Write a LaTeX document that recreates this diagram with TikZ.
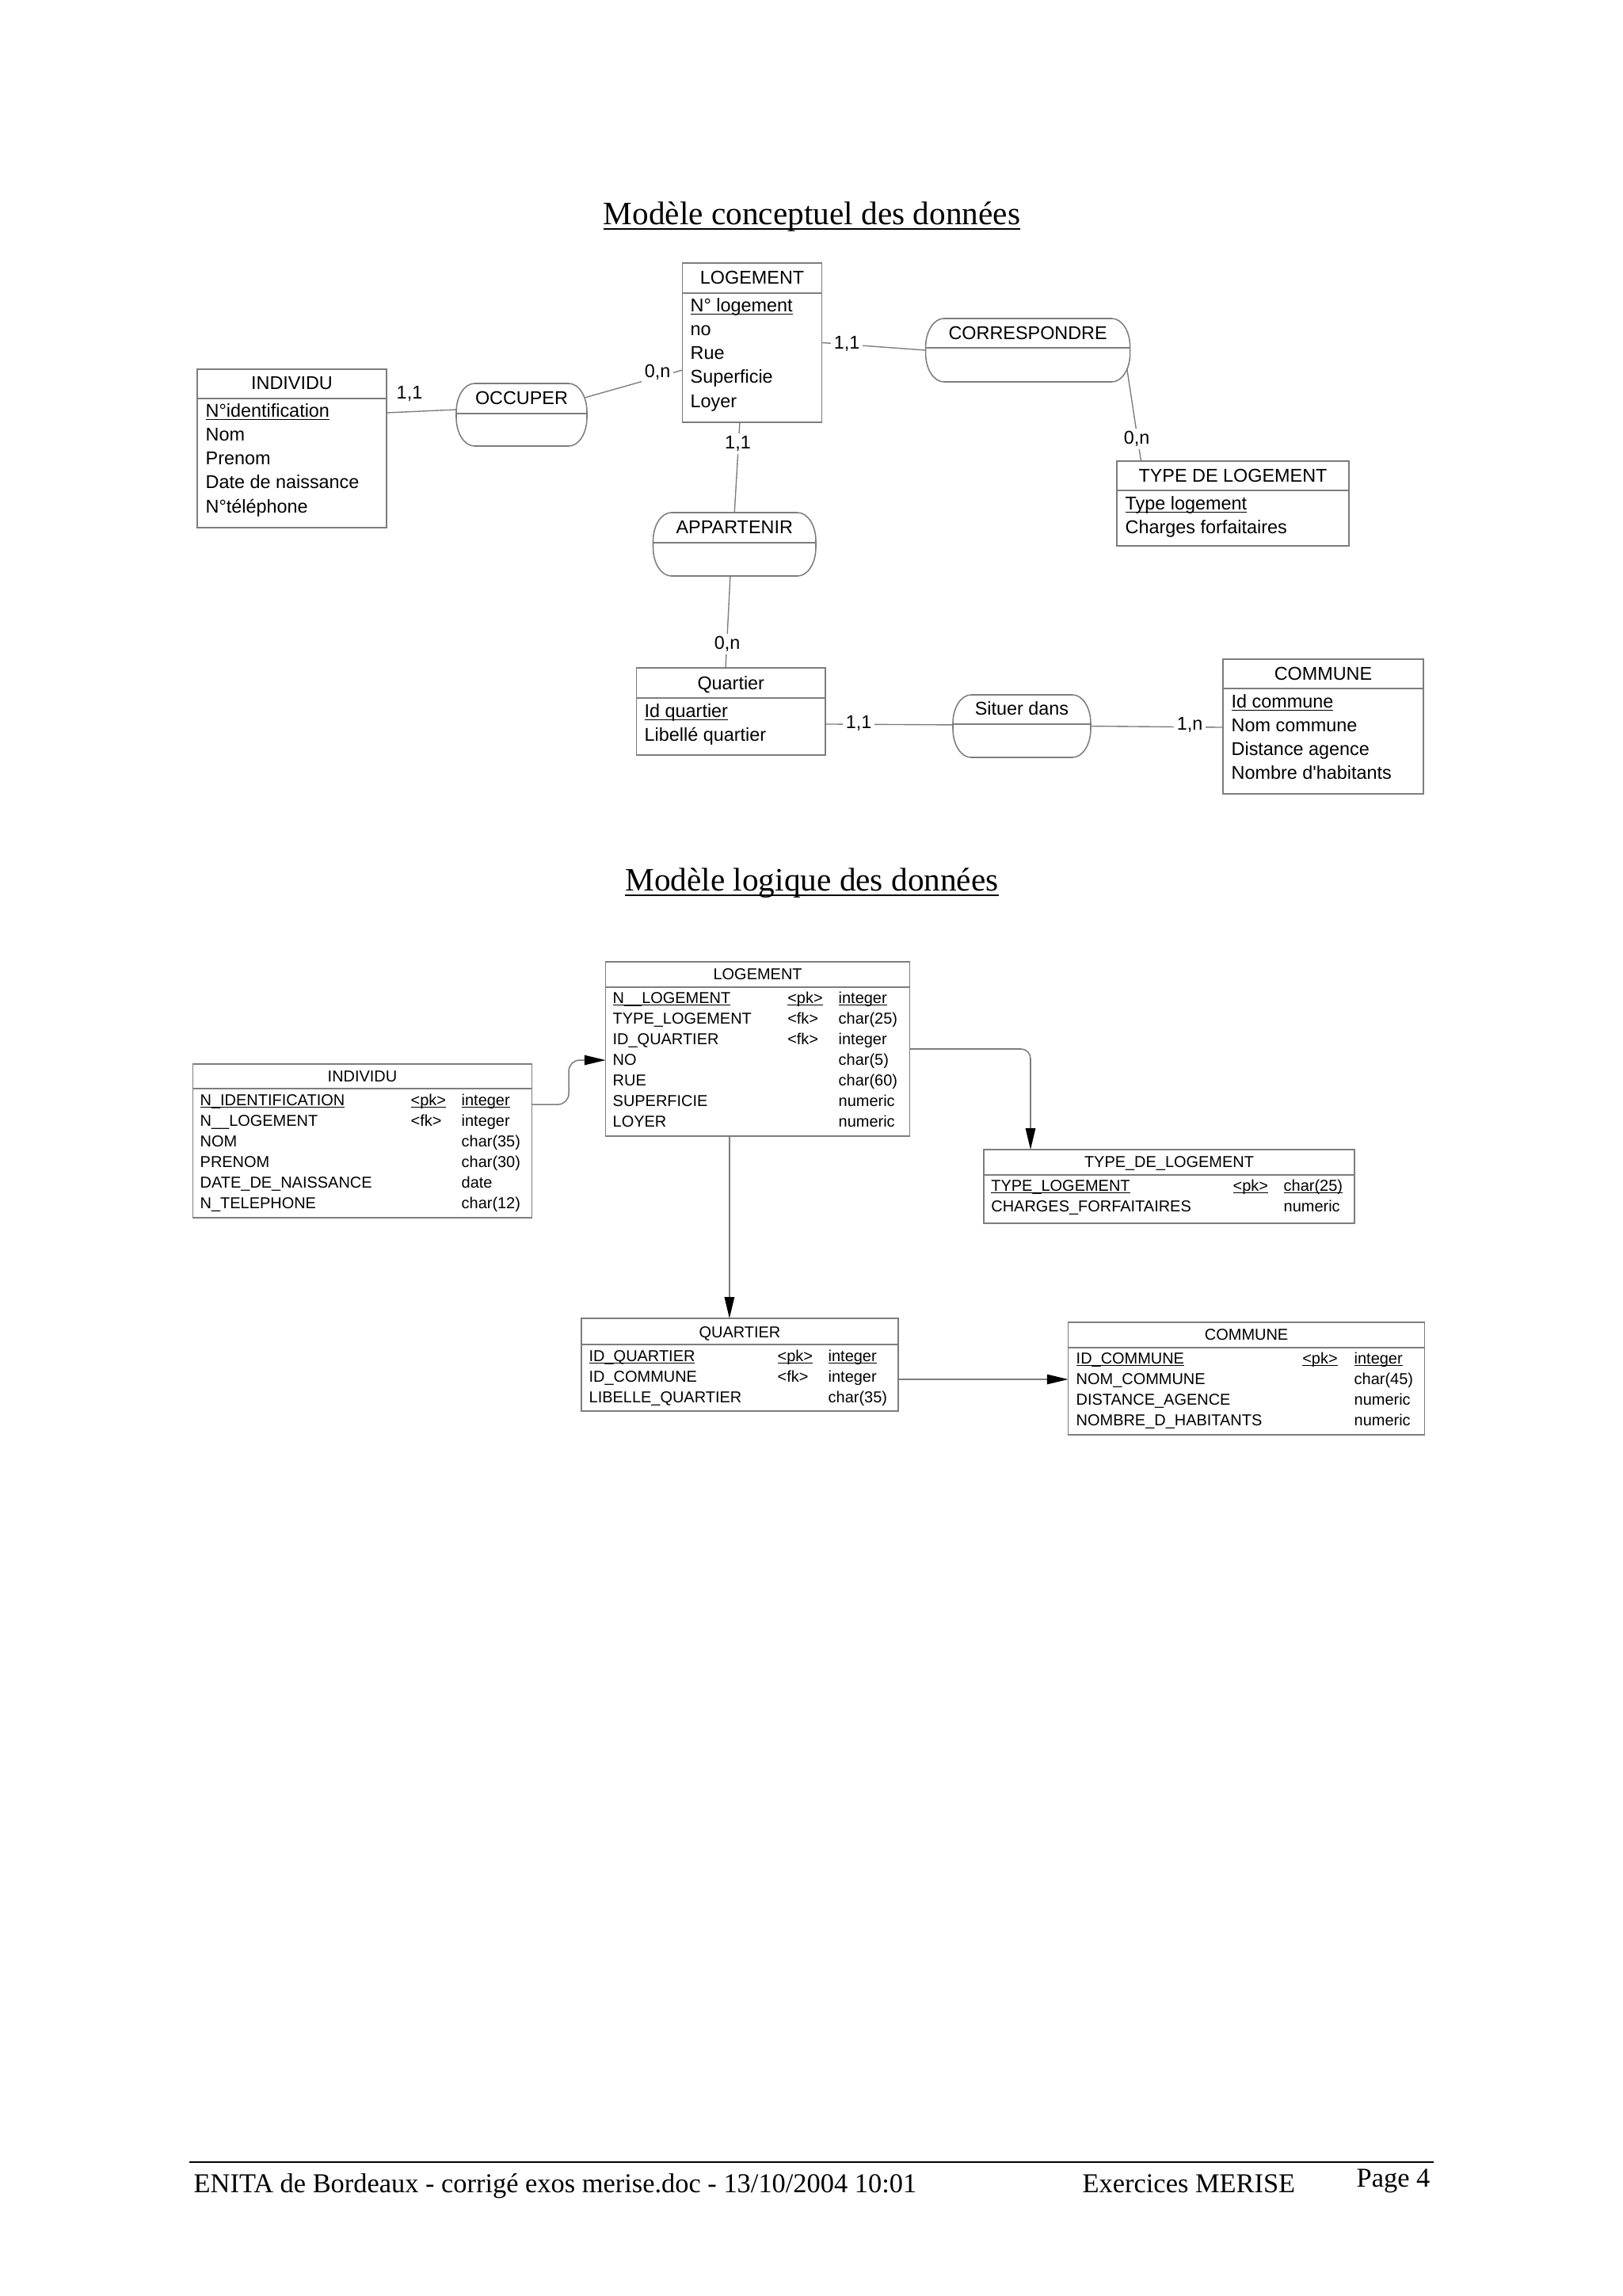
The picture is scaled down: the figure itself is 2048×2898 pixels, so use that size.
\documentclass[tikz,border=0pt]{standalone}
\usepackage{fontspec}
\setmainfont{Liberation Serif}
\newfontfamily\arialf{Liberation Sans}
\usetikzlibrary{calc,fit,arrows.meta}
\definecolor{bgray}{RGB}{125,125,125}
\newcommand\ulx[1]{\setbox0=\hbox{#1}\rlap{\rule[-0.16em]{\wd0}{0.05em}}\box0}
\tikzset{
 boxline/.style={draw=bgray, line width=0.45pt},
 entb/.style={draw=bgray, line width=0.45pt, inner sep=0pt, outer sep=0pt},
 assocb/.style={inner sep=0pt, outer sep=0pt},
 conn/.style={draw=bgray, line width=0.4pt},
 fk/.style={draw=bgray, line width=0.45pt, -{Triangle[length=7.8pt,width=3.6pt,color=black]}},
 ctxt/.style={font=\arialf\fontsize{6.8}{8}\selectfont, inner sep=0pt},
 mtxt/.style={font=\arialf\fontsize{5.8}{7}\selectfont, inner sep=0pt},
 card/.style={ctxt, fill=white, inner sep=1pt},
 ttl/.style={font=\fontsize{12}{14}\selectfont, inner sep=0pt, anchor=base},
 foot/.style={font=\fontsize{10}{12}\selectfont, inner sep=0pt, anchor=base west},
}
% CDM rows: prefix, x, y0, pitch, list
\newcommand\crows[5]{\foreach \t [count=\i from 0] in {#5} {\node[ctxt, anchor=base west] (#1r\i) at (#2,{#3+\i*#4}) {\t};}}
% MLD rows: prefix, x1, x2, x3, y0, list
\newcommand\mrows[6]{\foreach \a/\b/\c [count=\i from 0] in {#6} {
  \node[mtxt, anchor=base west] (#1a\i) at (#2,{#5+\i*26}) {\a};
  \node[mtxt, anchor=base west] (#1b\i) at (#3,{#5+\i*26}) {\b};
  \node[mtxt, anchor=base west] (#1c\i) at (#4,{#5+\i*26}) {\c};}}
% association shape: name, rx, ry, divider y
\newcommand\assoc[4]{%
 \draw[boxline] ($(#1.north west)+(#2,0)$) -- ($(#1.north east)+(-#2,0)$)
  .. controls ($(#1.north east)+(-0.448*#2,0)$) and ($(#1.north east)+(0,0.448*#3)$) .. ($(#1.north east)+(0,#3)$)
  -- ($(#1.south east)+(0,-#3)$)
  .. controls ($(#1.south east)+(0,-0.448*#3)$) and ($(#1.south east)+(-0.448*#2,0)$) .. ($(#1.south east)+(-#2,0)$)
  -- ($(#1.south west)+(#2,0)$)
  .. controls ($(#1.south west)+(0.448*#2,0)$) and ($(#1.south west)+(0,-0.448*#3)$) .. ($(#1.south west)+(0,-#3)$)
  -- ($(#1.north west)+(0,#3)$)
  .. controls ($(#1.north west)+(0,0.448*#3)$) and ($(#1.north west)+(0.448*#2,0)$) .. ($(#1.north west)+(#2,0)$) -- cycle;
 \draw[boxline] (#1.west |- 0,#4) -- (#1.east |- 0,#4);}
\begin{document}
\begin{tikzpicture}[x=0.29067pt,y=-0.29067pt]
\useasboundingbox[fill=white] (0,0) rectangle (2048,2898);

% ===== Titles =====
\node[ttl] (t1) at (1025,283) {\ulx{Modèle conceptuel des données}};
\node[ttl] (t2) at (1025,1124) {\ulx{Modèle logique des données}};

% ===== MCD entities =====
\node[entb, fit={(861.5,332)(1037.7,533)}] (lg) {};
\draw[boxline] (lg.west |- 0,370) -- (lg.east |- 0,370);
\node[ctxt, anchor=base] (lgt) at (lg.center |- 0,358) {LOGEMENT};
\crows{lg}{871}{393}{30.3}{\ulx{N° logement},no,Rue,Superficie,Loyer}

\node[entb, fit={(249,466)(488,666)}] (ind) {};
\draw[boxline] (ind.west |- 0,503) -- (ind.east |- 0,503);
\node[ctxt, anchor=base] (indt) at (ind.center |- 0,491) {INDIVIDU};
\crows{ind}{259}{526}{30.3}{\ulx{N°identification},Nom,Prenom,Date de naissance,N°téléphone}

\node[entb, fit={(1410,582)(1703,689)}] (tl) {};
\draw[boxline] (tl.west |- 0,619) -- (tl.east |- 0,619);
\node[ctxt, anchor=base] (tlt) at (tl.center |- 0,608) {TYPE DE LOGEMENT};
\crows{tl}{1420}{643}{30}{\ulx{Type logement},Charges forfaitaires}

\node[entb, fit={(803.5,843)(1042,953)}] (qt) {};
\draw[boxline] (qt.west |- 0,881) -- (qt.east |- 0,881);
\node[ctxt, anchor=base] (qtt) at (qt.center |- 0,870) {Quartier};
\crows{qt}{813}{905}{30}{\ulx{Id quartier},Libellé quartier}

\node[entb, fit={(1544,832)(1797,1002)}] (com) {};
\draw[boxline] (com.west |- 0,869) -- (com.east |- 0,869);
\node[ctxt, anchor=base] (comt) at (com.center |- 0,858) {COMMUNE};
\crows{com}{1554}{893}{30.3}{\ulx{Id commune},Nom commune,Distance agence,Nombre d\textquotesingle habitants}

% ===== MCD associations =====
\node[assocb, fit={(576,484)(741,563)}] (occ) {};
\assoc{occ}{23}{36}{522}
\node[ctxt, anchor=base] (occt) at (occ.center |- 0,510) {OCCUPER};

\node[assocb, fit={(1168.6,402)(1426.7,482)}] (cor) {};
\assoc{cor}{23}{36}{439}
\node[ctxt, anchor=base] (cort) at (cor.center |- 0,428) {CORRESPONDRE};

\node[assocb, fit={(824.5,647)(1030,727)}] (app) {};
\assoc{app}{23}{36}{685}
\node[ctxt, anchor=base] (appt) at (app.center |- 0,673) {APPARTENIR};

\node[assocb, fit={(1203,877)(1377,956)}] (sit) {};
\assoc{sit}{23}{36}{914}
\node[ctxt, anchor=base] (sitt) at (sit.center |- 0,902) {Situer dans};

% ===== MCD links =====
\draw[conn] ($(ind.north east)!0.275!(ind.south east)$) -- ($(occ.north west)!0.418!(occ.south west)$);
\draw[conn] ($(occ.north east)+(-3,18)$) -- ($(lg.north west)!0.672!(lg.south west)$);
\draw[conn] (lg.east) -- (cor.west);
\draw[conn] ($(cor.south east)+(-4,-17)$) -- ($(tl.north west)!0.104!(tl.north east)$);
\draw[conn] ($(lg.south west)!0.411!(lg.south east)$) -- (app.north);
\draw[conn] ($(app.south west)!0.474!(app.south east)$) -- ($(qt.north west)!0.472!(qt.north east)$);
\draw[conn] ($(qt.north east)!0.645!(qt.south east)$) -- ($(sit.north west)!0.48!(sit.south west)$);
\draw[conn] (sit.east) -- ($(com.north west)!0.506!(com.south west)$);

\node[card] (c1) at (517,497) {1,1};
\node[card] (c2) at (830,470) {0,n};
\node[card] (c3) at (1069,434) {1,1};
\node[card] (c4) at (1435,554) {0,n};
\node[card] (c5) at (931.5,560) {1,1};
\node[card] (c6) at (918,813) {0,n};
\node[card] (c7) at (1084,913) {1,1};
\node[card] (c8) at (1502,915) {1,n};

% ===== MLD tables =====
\node[entb, fit={(243.5,1343)(671.5,1537)}] (ind2) {};
\draw[boxline] (ind2.west |- 0,1374) -- (ind2.east |- 0,1374);
\node[mtxt, anchor=base] (ind2t) at (ind2.center |- 0,1365) {INDIVIDU};
\mrows{ind2}{252}{518}{582}{1395}{\ulx{N\_IDENTIFICATION}/\ulx{<pk>}/\ulx{integer},N\_\_LOGEMENT/<fk>/integer,NOM/{}/char(35),PRENOM/{}/char(30),DATE\_DE\_NAISSANCE/{}/date,N\_TELEPHONE/{}/char(12)}

\node[entb, fit={(764.6,1214)(1148.6,1434)}] (lg2) {};
\draw[boxline] (lg2.west |- 0,1246) -- (lg2.east |- 0,1246);
\node[mtxt, anchor=base] (lg2t) at (lg2.center |- 0,1236) {LOGEMENT};
\mrows{lg2}{773}{993.6}{1058}{1266}{\ulx{N\_\_LOGEMENT}/\ulx{<pk>}/\ulx{integer},TYPE\_LOGEMENT/<fk>/char(25),ID\_QUARTIER/<fk>/integer,NO/{}/char(5),RUE/{}/char(60),SUPERFICIE/{}/numeric,LOYER/{}/numeric}

\node[entb, fit={(1242,1451)(1710,1544)}] (ty2) {};
\draw[boxline] (ty2.west |- 0,1483) -- (ty2.east |- 0,1483);
\node[mtxt, anchor=base] (ty2t) at (ty2.center |- 0,1473) {TYPE\_DE\_LOGEMENT};
\mrows{ty2}{1250.7}{1556}{1620}{1503}{\ulx{TYPE\_LOGEMENT}/\ulx{<pk>}/\ulx{char(25)},CHARGES\_FORFAITAIRES/{}/numeric}

\node[entb, fit={(734,1664)(1134,1781)}] (qu2) {};
\draw[boxline] (qu2.west |- 0,1697) -- (qu2.east |- 0,1697);
\node[mtxt, anchor=base] (qu2t) at (qu2.center |- 0,1688) {QUARTIER};
\mrows{qu2}{743}{981}{1045}{1718}{\ulx{ID\_QUARTIER}/\ulx{<pk>}/\ulx{integer},ID\_COMMUNE/<fk>/integer,LIBELLE\_QUARTIER/{}/char(35)}

\node[entb, fit={(1348.6,1669)(1798.6,1811)}] (cm2) {};
\draw[boxline] (cm2.west |- 0,1701) -- (cm2.east |- 0,1701);
\node[mtxt, anchor=base] (cm2t) at (cm2.center |- 0,1691) {COMMUNE};
\mrows{cm2}{1358}{1643.6}{1709}{1721}{\ulx{ID\_COMMUNE}/\ulx{<pk>}/\ulx{integer},NOM\_COMMUNE/{}/char(45),DISTANCE\_AGENCE/{}/numeric,NOMBRE\_D\_HABITANTS/{}/numeric}

% ===== MLD references =====
\coordinate (ia) at ($(ind2.north east)!0.263!(ind2.south east)$);
\coordinate (lb) at ($(lg2.north west)!0.564!(lg2.south west)$);
\draw[fk, rounded corners=4pt] (ia) -| ($(ia)!0.5!(lb)$) |- (lb);
\draw[fk, rounded corners=3.5pt] (lg2.east) -| ($(ty2.north west)+(59,0)$);
\coordinate (lq) at ($(lg2.south west)!0.407!(lg2.south east)$);
\draw[fk] (lq) -- (lq |- qu2.north);
\coordinate (qc) at ($(qu2.north east)!0.658!(qu2.south east)$);
\draw[fk] (qc) -- (qc -| cm2.west);

% ===== Footer =====
\coordinate (fl) at (239,2729);
\coordinate (fr) at (1810,2729);
\draw[line width=0.75pt] (fl) -- (fr);
\node[foot] (f1) at (244,2767) {ENITA de Bordeaux - corrigé exos merise.doc - 13/10/2004 10:01};
\node[foot] (f2) at (1366,2767) {Exercices MERISE};
\node[foot] (f3) at (1712,2760) {Page 4};
\end{tikzpicture}
\end{document}
